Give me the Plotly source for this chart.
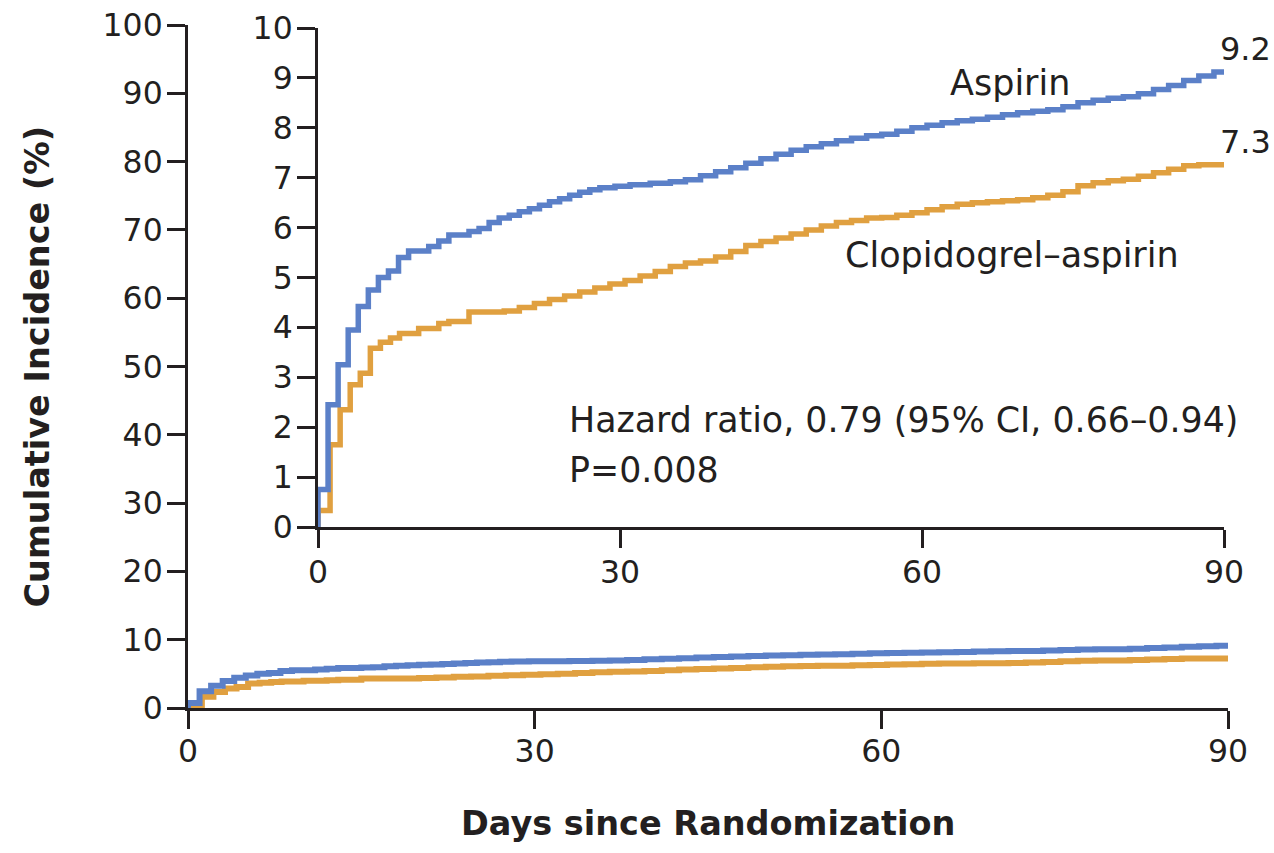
import plotly.graph_objects as go

# ---- data ----
aspirin_days = [0.0, 0.0, 1.0, 2.0, 3.0, 4.0, 5.0, 6.0, 7.0, 8.0, 9.0, 11.0, 12.0, 13.0, 15.0,
                16.0, 17.0, 18.0, 19.0, 20.0, 21.0, 22.0, 23.0, 24.0, 25.0, 26.0, 27.0, 28.0,
                29.5, 31.0, 33.0, 35.0, 36.5, 38.0, 39.5, 41.0, 42.5, 44.0, 45.5, 47.0, 48.5,
                50.0, 51.5, 53.0, 54.5, 56.0, 57.5, 59.0, 60.5, 62.0, 63.5, 65.0, 66.5, 68.0,
                69.5, 71.0, 72.5, 74.0, 75.5, 77.0, 78.5, 80.0, 81.5, 83.0, 84.5, 86.0, 87.5,
                89.0, 90.0]
aspirin_inc = [0.0, 0.75, 2.45, 3.25, 3.95, 4.42, 4.75, 5.00, 5.13, 5.40, 5.53, 5.62, 5.73, 5.85, 5.92,
               5.98, 6.10, 6.19, 6.25, 6.32, 6.38, 6.45, 6.52, 6.58, 6.65, 6.71, 6.76, 6.80,
               6.83, 6.86, 6.89, 6.92, 6.96, 7.04, 7.12, 7.20, 7.29, 7.38, 7.47, 7.55, 7.62,
               7.68, 7.74, 7.79, 7.84, 7.87, 7.93, 8.00, 8.05, 8.10, 8.14, 8.17, 8.21, 8.26,
               8.30, 8.33, 8.36, 8.42, 8.50, 8.55, 8.59, 8.62, 8.68, 8.77, 8.85, 8.95, 9.04,
               9.12, 9.15]

clop_days = [0.0, 0.0, 1.2, 2.2, 3.2, 4.2, 5.2, 6.2, 7.2, 8.1, 10.0, 12.0, 13.0, 15.0, 18.5,
             20.0, 21.5, 23.0, 24.5, 26.0, 27.5, 29.0, 30.5, 32.0, 33.5, 35.0, 36.5, 38.0,
             39.5, 41.0, 42.5, 44.0, 45.5, 47.0, 48.5, 50.0, 51.5, 53.0, 54.5, 56.0, 57.5,
             59.0, 60.5, 62.0, 63.5, 65.0, 66.5, 68.0, 69.5, 71.0, 72.5, 74.0, 75.5, 77.0,
             78.5, 80.0, 81.5, 83.0, 84.5, 86.0, 87.5, 90.0]
clop_inc = [0.0, 0.33, 1.65, 2.35, 2.85, 3.08, 3.58, 3.70, 3.79, 3.88, 3.98, 4.08, 4.12, 4.31, 4.33,
            4.40, 4.48, 4.56, 4.63, 4.71, 4.79, 4.87, 4.94, 5.03, 5.12, 5.22, 5.29, 5.33,
            5.41, 5.52, 5.64, 5.72, 5.79, 5.87, 5.95, 6.03, 6.10, 6.14, 6.19, 6.20, 6.25,
            6.30, 6.36, 6.42, 6.47, 6.50, 6.52, 6.54, 6.56, 6.60, 6.65, 6.72, 6.84, 6.90,
            6.94, 6.97, 7.03, 7.10, 7.17, 7.24, 7.26, 7.27]

main_yticks = [0, 10, 20, 30, 40, 50, 60, 70, 80, 90, 100]
inset_yticks = [0, 1, 2, 3, 4, 5, 6, 7, 8, 9, 10]
xticks = [0, 30, 60, 90]

BLUE = "#5b80c8"
ORANGE = "#e0a040"
INK = "#231f20"
FONT = "DejaVu Sans"
W, H = 1274, 853

fig = go.Figure()
for xa, ya, lw in [("x", "y", 6), ("x2", "y2", 5.5)]:
    fig.add_trace(go.Scatter(x=clop_days, y=clop_inc, mode="lines", line_shape="hv",
                             line=dict(color=ORANGE, width=lw), xaxis=xa, yaxis=ya,
                             showlegend=False, hoverinfo="skip"))
    fig.add_trace(go.Scatter(x=aspirin_days, y=aspirin_inc, mode="lines", line_shape="hv",
                             line=dict(color=BLUE, width=lw), xaxis=xa, yaxis=ya,
                             showlegend=False, hoverinfo="skip"))

axis_common = dict(showline=True, linecolor=INK, linewidth=3, ticks="outside", ticklen=18,
                   tickwidth=3, tickcolor=INK, showgrid=False, zeroline=False, automargin=False,
                   tickfont=dict(family=FONT, size=31.5, color=INK), fixedrange=True)

def px_x(p):
    return p / W

def px_y(p):
    return 1 - p / H

fig.update_layout(
    width=W, height=H, margin=dict(l=0, r=0, t=0, b=0, autoexpand=False),
    paper_bgcolor="white", plot_bgcolor="rgba(0,0,0,0)",
    font=dict(family=FONT, color=INK),
    xaxis=dict(domain=[px_x(188), px_x(1228)], range=[0, 90], tickvals=xticks,
               anchor="y", ticklabelstandoff=-5, **axis_common),
    yaxis=dict(domain=[px_y(708), px_y(25)], range=[0, 100], tickvals=main_yticks,
               anchor="x", ticklabelstandoff=-2, **axis_common),
    xaxis2=dict(domain=[px_x(318), px_x(1224)], range=[0, 90], tickvals=xticks,
                anchor="y2", ticklabelstandoff=-3, **axis_common),
    yaxis2=dict(domain=[px_y(527), px_y(28)], range=[0, 10], tickvals=inset_yticks,
                anchor="x2", ticklabelstandoff=-2, **axis_common),
)

ann = [
    dict(text="Aspirin", x=68.7, y=8.9, xref="x2", yref="y2", xanchor="center", yanchor="middle", size=35),
    dict(text="Clopidogrel\u2013aspirin", x=52.2, y=5.45, xref="x2", yref="y2", xanchor="left", yanchor="middle", size=35),
    dict(text="Hazard ratio, 0.79 (95% CI, 0.66\u20130.94)", x=24.7, y=2.14, xref="x2", yref="y2", xanchor="left", yanchor="middle", size=34.8),
    dict(text="P=0.008", x=24.7, y=1.14, xref="x2", yref="y2", xanchor="left", yanchor="middle", size=34.8),
    dict(text="9.2", x=89.4, y=9.58, xref="x2", yref="y2", xanchor="left", yanchor="middle", size=32),
    dict(text="7.3", x=89.4, y=7.72, xref="x2", yref="y2", xanchor="left", yanchor="middle", size=32),
]
for a in ann:
    size = a.pop("size")
    a.update(showarrow=False, font=dict(family=FONT, size=size, color=INK))
    fig.add_annotation(**a)

fig.add_annotation(text="<b>Days since Randomization</b>", x=0.5, y=px_y(823), xref="x domain",
                   yref="paper", xanchor="center", yanchor="middle", showarrow=False,
                   font=dict(family=FONT, size=33.5, color=INK))
fig.add_annotation(text="<b>Cumulative Incidence (%)</b>", x=px_x(37), y=0.5, xref="paper",
                   yref="y domain", xanchor="center", yanchor="middle", textangle=-90,
                   showarrow=False, font=dict(family=FONT, size=33.5, color=INK))

fig.write_html("out.html")
